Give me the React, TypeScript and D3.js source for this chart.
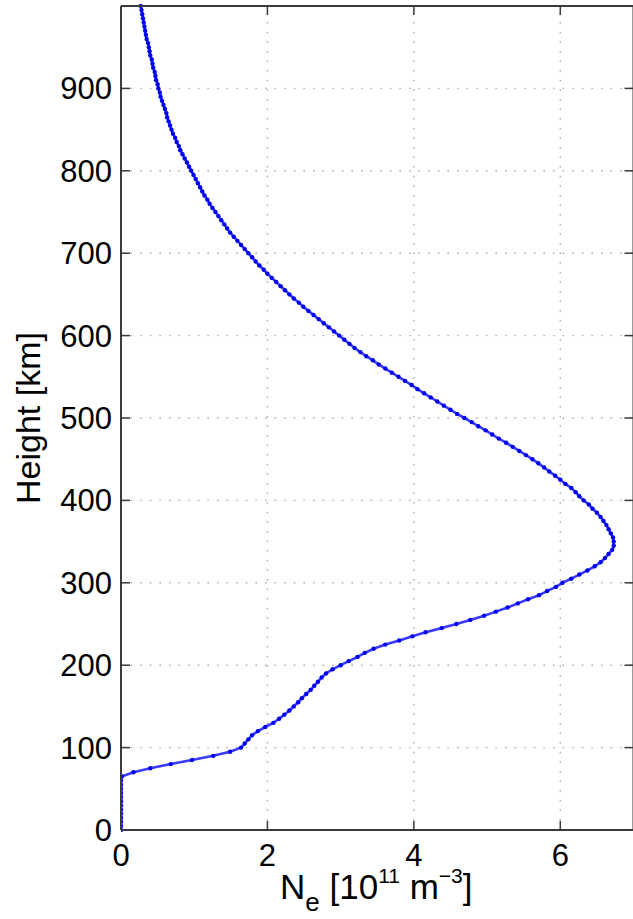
import React from "react";
import * as d3 from "d3";

// Electron density profile (heights every 5 km)
const heights: number[] = d3.range(0, 1001, 5);
const neValues: number[] = [
  // 0 - 60 km
  0, 0, 0, 0, 0, 0, 0, 0, 0, 0, 0, 0, 0,
  // 65 - 100
  0.01, 0.17, 0.40, 0.68, 0.97, 1.26, 1.49, 1.64,
  // 105 - 150
  1.69, 1.74, 1.79, 1.87, 1.97, 2.08, 2.16, 2.23, 2.30, 2.36,
  // 155 - 200
  2.42, 2.47, 2.53, 2.59, 2.64, 2.69, 2.74, 2.80, 2.89, 3.00,
  // 205 - 250
  3.11, 3.23, 3.33, 3.45, 3.61, 3.80, 3.98, 4.16, 4.38, 4.58,
  // 255 - 300
  4.77, 4.96, 5.12, 5.28, 5.42, 5.56, 5.71, 5.82, 5.94, 6.03,
  // 305 - 350
  6.15, 6.26, 6.37, 6.47, 6.55, 6.61, 6.66, 6.71, 6.73, 6.73,
  // 355 - 400
  6.72, 6.69, 6.66, 6.63, 6.59, 6.55, 6.50, 6.44, 6.39, 6.32,
  // 405 - 450
  6.26, 6.21, 6.15, 6.07, 6.00, 5.93, 5.85, 5.78, 5.70, 5.62,
  // 455 - 500
  5.53, 5.44, 5.35, 5.26, 5.16, 5.07, 4.98, 4.88, 4.79, 4.69,
  // 505 - 550
  4.59, 4.50, 4.41, 4.32, 4.23, 4.14, 4.05, 3.97, 3.88, 3.79,
  // 555 - 600
  3.70, 3.61, 3.52, 3.44, 3.35, 3.27, 3.19, 3.12, 3.05, 2.98,
  // 605 - 650
  2.91, 2.84, 2.77, 2.70, 2.63, 2.56, 2.49, 2.43, 2.36, 2.30,
  // 655 - 700
  2.24, 2.18, 2.12, 2.06, 2.00, 1.95, 1.89, 1.84, 1.79, 1.74,
  // 705 - 750
  1.69, 1.64, 1.59, 1.54, 1.49, 1.45, 1.41, 1.37, 1.33, 1.29,
  // 755 - 800
  1.25, 1.21, 1.18, 1.14, 1.11, 1.08, 1.05, 1.02, 0.99, 0.96,
  // 805 - 850
  0.93, 0.90, 0.87, 0.84, 0.81, 0.79, 0.76, 0.74, 0.71, 0.69,
  // 855 - 900
  0.67, 0.65, 0.63, 0.62, 0.60, 0.58, 0.56, 0.54, 0.53, 0.51,
  // 905 - 950
  0.50, 0.48, 0.47, 0.46, 0.44, 0.43, 0.42, 0.40, 0.39, 0.38,
  // 955 - 1000
  0.37, 0.35, 0.34, 0.33, 0.32, 0.31, 0.30, 0.29, 0.28, 0.27,
];

const xTicks: number[] = [0, 2, 4, 6];
const yTicks: number[] = [0, 100, 200, 300, 400, 500, 600, 700, 800, 900];

const W = 633;
const H = 919;
const plot = { left: 121, right: 633.5, top: 6, bottom: 830 };
const FONT = "'Liberation Sans', Arial, Helvetica, sans-serif";

export default function App() {
  const x = d3.scaleLinear().domain([0, 7]).range([plot.left, plot.right]);
  const y = d3.scaleLinear().domain([0, 1000]).range([plot.bottom, plot.top]);

  const pts: [number, number][] = heights.map((h, i) => [neValues[i], h]);
  const line = d3
    .line<[number, number]>()
    .x((d) => x(d[0]))
    .y((d) => y(d[1]));

  const tickLen = 9;
  const axisColor = "#3a3a3a";
  const gridColor = "#a8a8a8";

  return (
    <svg
      width={W}
      height={H}
      style={{ position: "absolute", left: 0, top: 0, display: "block", background: "#fff" }}
      fontFamily={FONT}
    >
      <defs>
        <clipPath id="plotClip">
          <rect x={plot.left} y={plot.top - 2} width={plot.right - plot.left} height={plot.bottom - plot.top + 4} />
        </clipPath>
      </defs>
      <rect x={0} y={0} width={W} height={H} fill="#fff" />

      {/* grid */}
      <g stroke={gridColor} strokeWidth={1.4} strokeDasharray="1.5 8.1">
        {xTicks
          .filter((t) => t !== 0)
          .map((t) => (
            <line key={"gx" + t} x1={x(t)} x2={x(t)} y1={plot.bottom} y2={plot.top} />
          ))}
        {yTicks
          .filter((t) => t !== 0)
          .map((t) => (
            <line key={"gy" + t} x1={plot.left} x2={plot.right} y1={y(t)} y2={y(t)} />
          ))}
      </g>

      {/* curve */}
      <g clipPath="url(#plotClip)">
        <path d={line(pts) || ""} fill="none" stroke="#3a3aff" strokeWidth={2.6} strokeLinejoin="round" />
        {pts.map((d, i) => (
          <circle key={i} cx={x(d[0])} cy={y(d[1])} r={2.2} fill="#0000f0" />
        ))}
      </g>

      {/* box */}
      <g stroke={axisColor} strokeWidth={2} fill="none">
        <line x1={plot.left} x2={plot.right} y1={plot.top} y2={plot.top} />
        <line x1={plot.left} x2={plot.right} y1={plot.bottom} y2={plot.bottom} />
        <line x1={plot.left} x2={plot.left} y1={plot.top} y2={plot.bottom} />
        <line x1={plot.right} x2={plot.right} y1={plot.top} y2={plot.bottom} />
      </g>

      {/* ticks */}
      <g stroke={axisColor} strokeWidth={1.5}>
        {xTicks.map((t) => (
          <g key={"tx" + t}>
            <line x1={x(t)} x2={x(t)} y1={plot.bottom} y2={plot.bottom - tickLen} />
            <line x1={x(t)} x2={x(t)} y1={plot.top} y2={plot.top + tickLen} />
          </g>
        ))}
        {yTicks.map((t) => (
          <g key={"ty" + t}>
            <line x1={plot.left} x2={plot.left + tickLen} y1={y(t)} y2={y(t)} />
            <line x1={plot.right} x2={plot.right - tickLen} y1={y(t)} y2={y(t)} />
          </g>
        ))}
      </g>

      {/* tick labels */}
      <g fontSize={31} fill="#000">
        {xTicks.map((t) => (
          <text key={"lx" + t} x={x(t)} y={866} textAnchor="middle">
            {t}
          </text>
        ))}
        {yTicks.map((t) => (
          <text key={"ly" + t} x={112} y={y(t) + 11} textAnchor="end">
            {t}
          </text>
        ))}
      </g>

      {/* axis labels */}
      <text
        fontSize={34}
        fill="#000"
        textAnchor="middle"
        transform={`translate(40, ${(plot.top + plot.bottom) / 2}) rotate(-90)`}
      >
        Height [km]
      </text>
      <text fontSize={35} fill="#000" x={280} y={899}>
        <tspan>N</tspan>
        <tspan fontSize={26} dy={12}>e</tspan>
        <tspan dy={-12}> [10</tspan>
        <tspan fontSize={21} dy={-16}>11</tspan>
        <tspan dy={16}> m</tspan>
        <tspan fontSize={21} dy={-16}>−3</tspan>
        <tspan dy={16}>]</tspan>
      </text>
    </svg>
  );
}
